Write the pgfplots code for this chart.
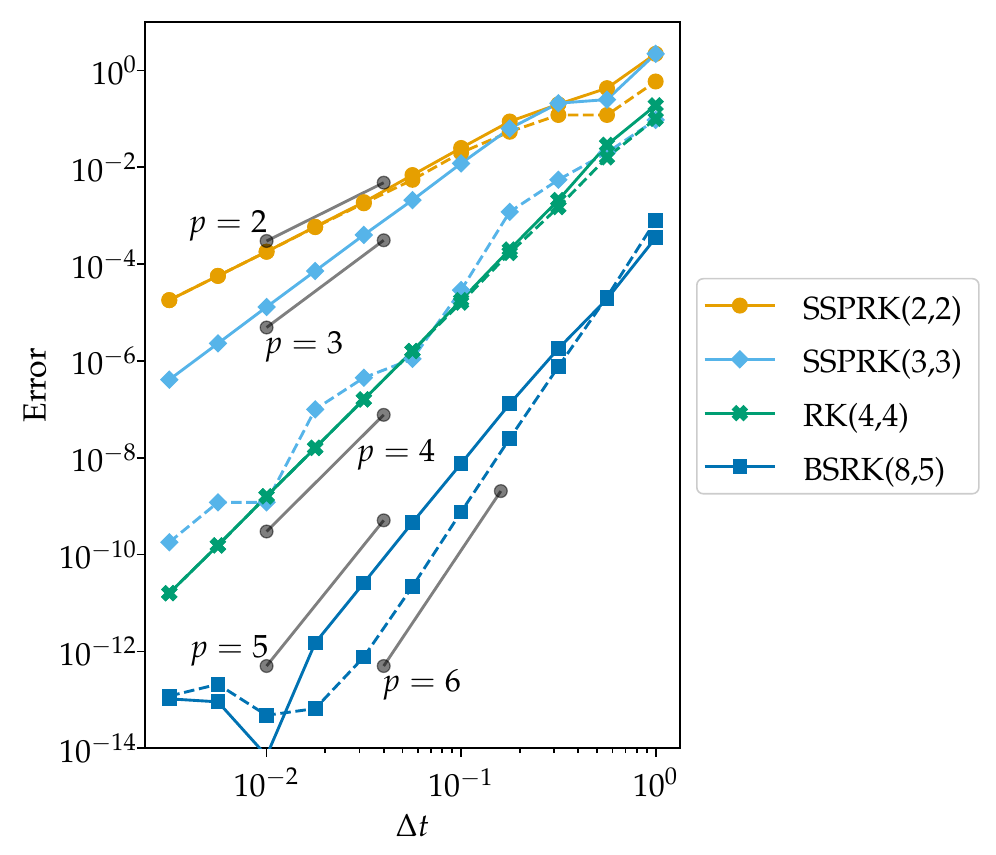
\documentclass[border=0pt]{standalone}
\usepackage[T1]{fontenc}
\usepackage{mathpazo}
\usepackage{pgfplots}
\pgfplotsset{compat=1.18}

\definecolor{cOrange}{HTML}{E69F00}
\definecolor{cSky}{HTML}{56B4E9}
\definecolor{cGreen}{HTML}{009E73}
\definecolor{cBlue}{HTML}{0072B2}

% filled "X" marker
\pgfdeclareplotmark{Xf}{%
  \pgfpathmoveto{\pgfqpoint{-0.5\pgfplotmarksize}{-1\pgfplotmarksize}}%
  \pgfpathlineto{\pgfqpoint{0pt}{-0.5\pgfplotmarksize}}%
  \pgfpathlineto{\pgfqpoint{0.5\pgfplotmarksize}{-1\pgfplotmarksize}}%
  \pgfpathlineto{\pgfqpoint{1\pgfplotmarksize}{-0.5\pgfplotmarksize}}%
  \pgfpathlineto{\pgfqpoint{0.5\pgfplotmarksize}{0pt}}%
  \pgfpathlineto{\pgfqpoint{1\pgfplotmarksize}{0.5\pgfplotmarksize}}%
  \pgfpathlineto{\pgfqpoint{0.5\pgfplotmarksize}{1\pgfplotmarksize}}%
  \pgfpathlineto{\pgfqpoint{0pt}{0.5\pgfplotmarksize}}%
  \pgfpathlineto{\pgfqpoint{-0.5\pgfplotmarksize}{1\pgfplotmarksize}}%
  \pgfpathlineto{\pgfqpoint{-1\pgfplotmarksize}{0.5\pgfplotmarksize}}%
  \pgfpathlineto{\pgfqpoint{-0.5\pgfplotmarksize}{0pt}}%
  \pgfpathlineto{\pgfqpoint{-1\pgfplotmarksize}{-0.5\pgfplotmarksize}}%
  \pgfpathclose
  \pgfusepathqfillstroke}

\pgfplotsset{
  s22/.style={color=cOrange, mark=*, mark size=2.3pt, mark options={solid, line width=0.4pt}},
  s33/.style={color=cSky, mark=square*, mark size=1.85pt, mark options={solid, rotate=45, line width=0.4pt}},
  s44/.style={color=cGreen, mark=Xf, mark size=2.3pt, mark options={solid, line width=0.4pt}},
  s85/.style={color=cBlue, mark=square*, mark size=2.1pt, mark options={solid, line width=0.4pt}},
  dashed line/.style={dash pattern=on 3.3pt off 1.45pt},
  refline/.style={black, draw opacity=0.5, mark=*, mark size=2.0pt,
    mark options={solid, fill=black, fill opacity=0.5, draw opacity=0.5, line width=0.4pt}},
}

\begin{document}
\begin{tikzpicture}
\path[use as bounding box] (-45.31pt,-33.34pt) rectangle (265.94pt,233.84pt);
\begin{axis}[
  at={(0pt,0pt)}, anchor=south west,
  scale only axis, width=167.19pt, height=226.97pt,
  xmode=log, ymode=log,
  xmin=0.002371, xmax=1.3335, ymin=1e-14, ymax=10,
  xtick={0.01,0.1,1},
  ytick={1e-14,1e-12,1e-10,1e-8,1e-6,1e-4,1e-2,1},
  yminorticks=false,
  xtick pos=bottom, ytick pos=left,
  tick align=outside,
  major tick length=2.65pt, minor tick length=1.5pt,
  axis line style={line width=0.55pt},
  every tick/.style={black, line width=0.55pt},
  font=\fontsize{10}{12}\selectfont,
  yticklabel style={xshift=3.8pt},
  xlabel={$\Delta t$}, ylabel={Error},
  xlabel style={at={(axis description cs:0.5,-0.1056)}, anchor=center},
  ylabel style={at={(axis description cs:-0.2056,0.5)}, anchor=center},
  every axis plot/.append style={line width=0.9pt},
  legend image code/.code={\draw[mark repeat=2,mark phase=2] plot coordinates {(0pt,0pt)(11pt,0pt)(22pt,0pt)};},
  legend cell align=left,
  legend style={at={(axis description cs:1.03,0.4985)}, anchor=west,
    draw=black!20, line width=0.5pt, rounded corners=2pt, fill=white,
    inner xsep=2pt, inner ysep=2.2pt, row sep=4.4pt,
    /tikz/every odd column/.append style={column sep=5pt},
    nodes={inner xsep=3.3pt, inner ysep=0pt, text height=10.4pt, text depth=2pt},
    font=\fontsize{10}{12}\selectfont},
]
% SSPRK(2,2)
\addplot[s22] coordinates {(0.003162,1.8e-5)(0.005623,5.7e-5)(0.01,1.8e-4)(0.01778,5.9e-4)(0.03162,1.9e-3)(0.05623,6.9e-3)(0.1,2.5e-2)(0.1778,8.8e-2)(0.3162,0.20)(0.5623,0.43)(1,2.2)};
\addlegendentry{SSPRK(2,2)}
\addplot[s22, dashed line, forget plot] coordinates {(0.003162,1.8e-5)(0.005623,5.7e-5)(0.01,1.8e-4)(0.01778,5.8e-4)(0.03162,1.8e-3)(0.05623,5.5e-3)(0.1,2.0e-2)(0.1778,5.4e-2)(0.3162,0.12)(0.5623,0.12)(1,0.59)};
% SSPRK(3,3)
\addplot[s33] coordinates {(0.003162,4.1e-7)(0.005623,2.3e-6)(0.01,1.3e-5)(0.01778,7.2e-5)(0.03162,4.0e-4)(0.05623,2.1e-3)(0.1,1.2e-2)(0.1778,6.3e-2)(0.3162,0.21)(0.5623,0.25)(1,2.2)};
\addlegendentry{SSPRK(3,3)}
\addplot[s33, dashed line, forget plot] coordinates {(0.003162,1.8e-10)(0.005623,1.2e-9)(0.01,1.2e-9)(0.01778,1.0e-7)(0.03162,4.5e-7)(0.05623,1.1e-6)(0.1,2.9e-5)(0.1778,1.2e-3)(0.3162,5.5e-3)(0.5623,2.0e-2)(1,0.095)};
% RK(4,4)
\addplot[s44] coordinates {(0.003162,1.6e-11)(0.005623,1.55e-10)(0.01,1.6e-9)(0.01778,1.6e-8)(0.03162,1.6e-7)(0.05623,1.6e-6)(0.1,1.8e-5)(0.1778,2.0e-4)(0.3162,2.1e-3)(0.5623,2.9e-2)(1,0.19)};
\addlegendentry{RK(4,4)}
\addplot[s44, dashed line, forget plot] coordinates {(0.003162,1.6e-11)(0.005623,1.55e-10)(0.01,1.6e-9)(0.01778,1.6e-8)(0.03162,1.6e-7)(0.05623,1.6e-6)(0.1,1.6e-5)(0.1778,1.7e-4)(0.3162,1.5e-3)(0.5623,1.6e-2)(1,0.10)};
% BSRK(8,5)
\addplot[s85] coordinates {(0.003162,1.05e-13)(0.005623,9.1e-14)(0.01,7e-15)(0.01778,1.5e-12)(0.03162,2.6e-11)(0.05623,4.6e-10)(0.1,7.6e-9)(0.1778,1.3e-7)(0.3162,1.8e-6)(0.5623,1.9e-5)(1,3.5e-4)};
\addlegendentry{BSRK(8,5)}
\addplot[s85, dashed line, forget plot] coordinates {(0.003162,1.2e-13)(0.005623,2.1e-13)(0.01,4.8e-14)(0.01778,6.6e-14)(0.03162,7.7e-13)(0.05623,2.2e-11)(0.1,7.6e-10)(0.1778,2.5e-8)(0.3162,7.6e-7)(0.5623,2.1e-5)(1,7.9e-4)};
% reference slopes
\addplot[refline, forget plot] coordinates {(0.01,3.0e-4)(0.04,4.8e-3)};
\addplot[refline, forget plot] coordinates {(0.01,4.9e-6)(0.04,3.1e-4)};
\addplot[refline, forget plot] coordinates {(0.01,3.0e-10)(0.04,7.7e-8)};
\addplot[refline, forget plot] coordinates {(0.01,5.0e-13)(0.04,5.1e-10)};
\addplot[refline, forget plot] coordinates {(0.04,5.0e-13)(0.16,2.05e-9)};
\node at (axis cs:0.0063,6.2e-4) {$p = 2$};
\node at (axis cs:0.0155,1.95e-6) {$p = 3$};
\node at (axis cs:0.046,1.15e-8) {$p = 4$};
\node at (axis cs:0.0064,1.0e-12) {$p = 5$};
\node at (axis cs:0.0624,2.0e-13) {$p = 6$};
\end{axis}
\end{tikzpicture}
\end{document}
